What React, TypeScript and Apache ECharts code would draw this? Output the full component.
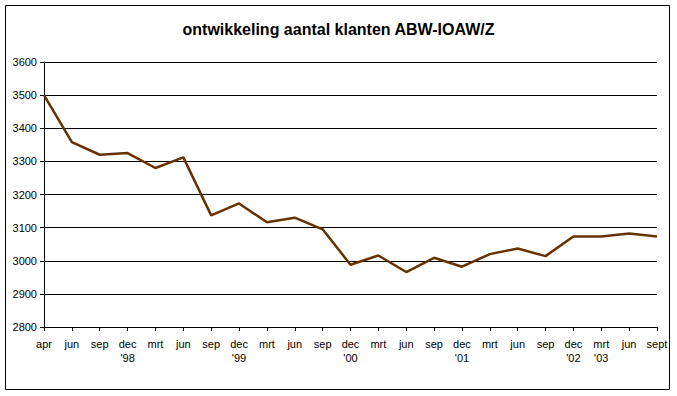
import React, { useEffect, useRef } from "react";
import * as echarts from "echarts";

const titleText = "ontwikkeling aantal klanten ABW-IOAW/Z";
const categories = [
  "apr", "jun", "sep", "dec\n'98", "mrt", "jun", "sep", "dec\n'99", "mrt", "jun", "sep", "dec\n'00",
  "mrt", "jun", "sep", "dec\n'01", "mrt", "jun", "sep", "dec\n'02", "mrt\n'03", "jun", "sept",
];
const clients = [
  3500, 3358, 3320, 3325, 3280, 3312, 3137, 3173, 3116, 3130, 3095, 2988,
  3016, 2966, 3009, 2982, 3020, 3037, 3014, 3073, 3073, 3082, 3073,
];
const yMin = 2800;
const yMax = 3600;
const yStep = 100;

export default function App() {
  const ref = useRef<HTMLDivElement>(null);
  useEffect(() => {
    if (!ref.current) return;
    const chart = echarts.init(ref.current, null, { renderer: "svg" });
    const font = "'Liberation Sans', Arial, sans-serif";
    chart.setOption({
      animation: false,
      backgroundColor: "#ffffff",
      textStyle: { fontFamily: font },
      title: {
        text: titleText,
        left: "center",
        top: 16,
        textStyle: { fontFamily: font, fontSize: 16, fontWeight: "bold", color: "#000" },
      },
      graphic: [
        {
          type: "rect",
          shape: { x: 5.5, y: 5.5, width: 664, height: 384 },
          style: { fill: "none", stroke: "#000", lineWidth: 1 },
          silent: true,
        },
      ],
      grid: { left: 44, right: 20, top: 62, bottom: 69 },
      xAxis: {
        type: "category",
        data: categories,
        boundaryGap: false,
        axisLine: { lineStyle: { color: "#000", width: 1 } },
        axisTick: { show: true, length: 4, lineStyle: { color: "#000" }, alignWithLabel: true },
        axisLabel: {
          interval: 0,
          color: "#000",
          fontSize: 11,
          fontFamily: font,
          margin: 10,
          lineHeight: 14,
        },
        splitLine: { show: false },
      },
      yAxis: {
        type: "value",
        min: yMin,
        max: yMax,
        interval: yStep,
        axisLine: { show: true, lineStyle: { color: "#000", width: 1 } },
        axisTick: { show: true, length: 4, lineStyle: { color: "#000" } },
        axisLabel: {
          color: "#000",
          fontSize: 11,
          fontFamily: font,
          margin: 7,
          formatter: (v: number) => String(v),
        },
        splitLine: { show: true, lineStyle: { color: "#000", width: 1 } },
      },
      series: [
        {
          type: "line",
          data: clients,
          symbol: "none",
          lineStyle: { color: "#663300", width: 2.5 },
        },
      ],
    });
    return () => chart.dispose();
  }, []);
  return (
    <div
      ref={ref}
      style={{ position: "fixed", left: 0, top: 0, width: 677, height: 396 }}
    />
  );
}
